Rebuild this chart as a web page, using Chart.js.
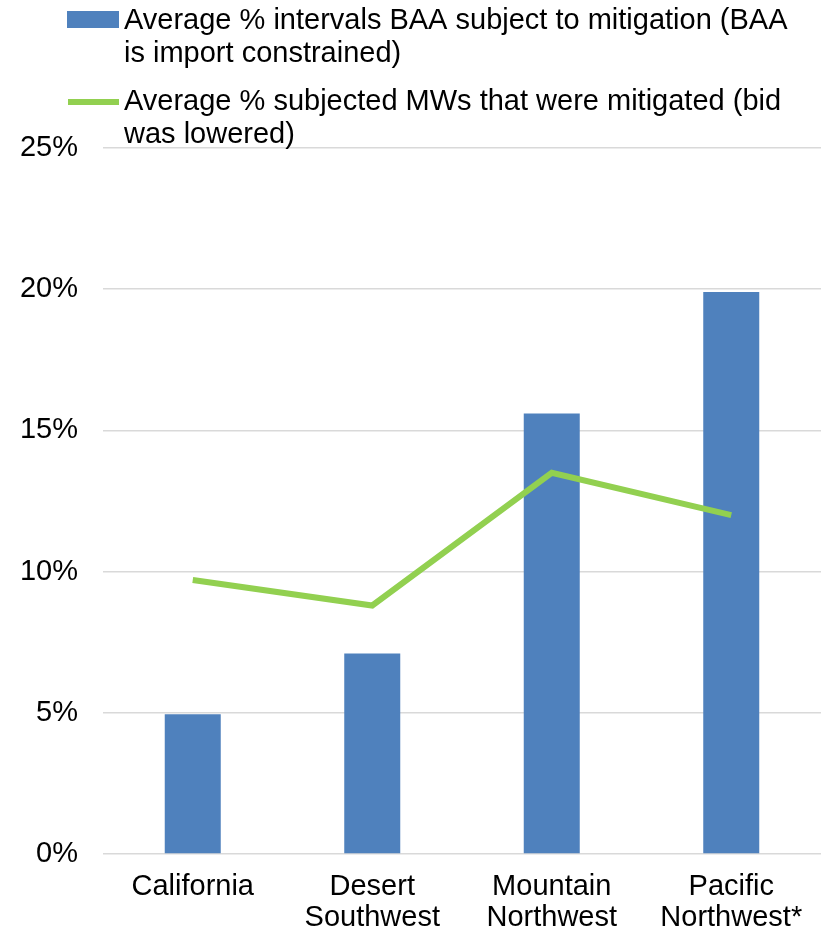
<!DOCTYPE html>
<html>
<head>
<meta charset="utf-8">
<script src="https://cdn.jsdelivr.net/npm/chart.js@4"></script>
<style>
	html, body { margin: 0; padding: 0; background: #fff; }
	#wrap { width: 825px; height: 934px; }
</style>
</head>
<body>
<div id="wrap"><canvas id="chart"></canvas></div>
<script>
const categories = ["California", ["Desert", "Southwest"], ["Mountain", "Northwest"], ["Pacific", "Northwest*"]];
const intervalsMitigated = [4.95, 7.1, 15.6, 19.9];
const mwsMitigated = [9.7, 8.8, 13.5, 12.0];
const yTicks = [0, 5, 10, 15, 20, 25];
const legendLines = [
	["Average % intervals BAA subject to mitigation (BAA", "is import constrained)"],
	["Average % subjected MWs that were mitigated (bid", "was lowered)"],
];

const FONT = "'Liberation Sans', Arial, sans-serif";
const BLUE = "#4f81bd";
const GREEN = "#92d050";

// legend is drawn by hand so the labels can wrap like the original
const wrappedLegend = {
	id: "wrappedLegend",
	afterDraw(chart) {
		const ctx = chart.ctx;
		ctx.save();
		ctx.font = "29px " + FONT;
		ctx.textBaseline = "alphabetic";
		chart.data.datasets.forEach((ds, i) => {
			const top = 11 + i * 81;
			if (ds.type === "line") {
				ctx.strokeStyle = ds.borderColor;
				ctx.lineWidth = 6;
				ctx.beginPath();
				ctx.moveTo(68, top + 10);
				ctx.lineTo(119, top + 10);
				ctx.stroke();
			} else {
				ctx.fillStyle = ds.backgroundColor;
				ctx.fillRect(67, top, 52, 17);
			}
			ctx.fillStyle = "#000";
			legendLines[i].forEach((t, j) => ctx.fillText(t, 124, top + 18 + j * 33));
		});
		ctx.restore();
	}
};

const chart = new Chart(document.getElementById("chart"), {
	type: "bar",
	data: {
		labels: categories,
		datasets: [{
			type: "bar",
			label: legendLines[0].join(" "),
			data: intervalsMitigated,
			backgroundColor: BLUE,
			categoryPercentage: 1,
			barPercentage: 0.312,
			order: 1,
		}, {
			type: "line",
			label: legendLines[1].join(" "),
			data: mwsMitigated,
			borderColor: GREEN,
			borderWidth: 6,
			pointRadius: 0,
			tension: 0,
			order: 0,
		}],
	},
	options: {
		responsive: true,
		maintainAspectRatio: false,
		animation: false,
		layout: {
			padding: {top: 148, left: 19, right: 4, bottom: 2},
		},
		plugins: {
			legend: {display: false},
			tooltip: {enabled: false},
		},
		scales: {
			x: {
				grid: {display: false},
				border: {display: false},
				afterFit: s => { s.height = 78; },
				ticks: {
					color: "#000",
					padding: 10,
					font: {family: FONT, size: 29, lineHeight: 1.05},
					maxRotation: 0,
					autoSkip: false,
				},
			},
			y: {
				min: 0,
				max: 25,
				afterBuildTicks: s => { s.ticks = yTicks.map(v => ({value: v})); },
				afterFit: s => { s.width = 84; },
				grid: {color: "#d9d9d9", lineWidth: 1.5, drawTicks: false},
				border: {display: false},
				ticks: {
					color: "#000",
					padding: 25,
					font: {family: FONT, size: 29},
					callback: v => v + "%",
				},
			},
		},
	},
	plugins: [wrappedLegend],
});
</script>
</body>
</html>
